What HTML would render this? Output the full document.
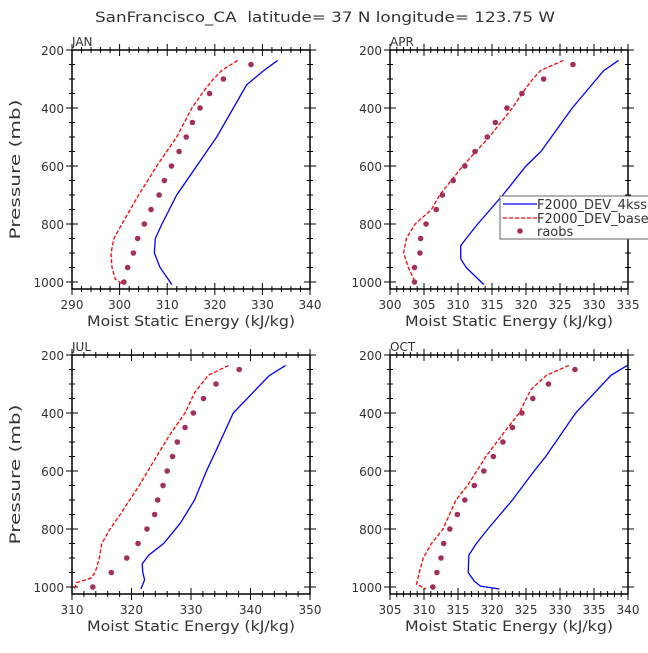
<!DOCTYPE html>
<html><head><meta charset="utf-8"><style>
body{margin:0;background:#fff;}
svg text{font-family:"DejaVu Sans","Liberation Sans",sans-serif;fill:#333;white-space:pre;}
</style></head><body>
<svg id="c" width="648" height="648" viewBox="0 0 648 648">
<text x="95" y="22" font-size="14" textLength="460" lengthAdjust="spacingAndGlyphs" xml:space="preserve">SanFrancisco_CA  latitude= 37 N longitude= 123.75 W</text>
</svg>
<script>
const panelNames = ["JAN","APR","JUL","OCT"];
const xMins = [290,300,310,305];
const xMaxs = [340,335,350,340];
const xTickSteps = [10,5,10,5];
const xMinorSteps = [2,1,2,1];
const yTicks = [200,400,600,800,1000];
const obsP = [250,300,350,400,450,500,550,600,650,700,750,800,850,900,950,1000];
const obsJAN = [327.6,321.8,318.9,316.9,315.3,314.0,312.5,310.9,309.4,308.3,306.6,305.2,303.8,302.9,301.7,300.9];
const obsAPR = [326.9,322.6,319.4,317.2,315.5,314.3,312.5,311.0,309.3,307.7,306.8,305.3,304.5,304.4,303.6,303.6];
const obsJUL = [338.1,334.2,332.1,330.4,329.0,327.7,326.9,326.0,325.3,324.4,323.9,322.6,321.1,319.2,316.6,313.5];
const obsOCT = [332.2,328.3,326.0,324.4,323.0,321.6,320.2,318.8,317.4,316.0,314.9,313.8,312.9,312.5,311.9,311.3];
const blueJAN_P = [236,272,320,400,500,600,700,800,850,900,950,1009];
const blueJAN = [333.2,330.2,326.7,323.9,320.4,316.2,312.0,308.9,307.5,307.3,308.5,311.0];
const redJAN_P = [236,270,300,350,400,500,600,700,800,850,900,950,990,1010];
const redJAN = [324.8,321.5,319.7,317.3,315.2,312.0,307.8,304.0,300.5,298.8,298.2,298.4,299.1,300.8];
const blueAPR_P = [236,272,400,550,600,700,800,850,875,920,950,1009];
const blueAPR = [333.6,331.4,326.8,322.2,320.0,316.6,312.9,311.2,310.4,310.4,311.2,313.8];
const redAPR_P = [236,270,300,350,400,500,600,700,750,800,850,900,950,1000];
const redAPR = [325.5,322.2,321.0,319.4,318.0,314.6,310.7,307.3,306.1,303.7,302.4,302.0,302.7,303.7];
const blueJUL_P = [236,272,400,530,600,700,780,850,890,920,950,975,1007];
const blueJUL = [345.9,343.1,337.1,334.2,332.6,330.6,328.2,325.4,322.9,321.8,321.9,322.2,321.6];
const redJUL_P = [236,270,330,400,470,550,650,750,800,850,900,950,970,985,1007];
const redJUL = [336.3,332.9,330.6,329.0,326.6,324.2,321.3,318.1,316.4,315.0,314.6,313.9,313.1,310.8,310.4];
const blueOCT_P = [236,270,400,550,600,700,800,850,890,950,980,997,1007];
const blueOCT = [339.9,337.5,332.3,327.9,326.2,323.0,319.4,317.7,316.6,316.5,317.4,318.3,321.1];
const redOCT_P = [236,270,320,400,460,550,650,700,800,850,900,950,990,1007];
const redOCT = [331.3,328.0,325.7,324.0,322.0,319.1,316.4,314.7,312.8,311.1,309.9,309.3,308.9,310.3];
const obsAll=[obsJAN,obsAPR,obsJUL,obsOCT];
const blueAll=[[blueJAN_P,blueJAN],[blueAPR_P,blueAPR],[blueJUL_P,blueJUL],[blueOCT_P,blueOCT]];
const redAll=[[redJAN_P,redJAN],[redAPR_P,redAPR],[redJUL_P,redJUL],[redOCT_P,redOCT]];

const svg=document.getElementById('c');
const NS='http://www.w3.org/2000/svg';
function mk(tag,attrs,parent){const e=document.createElementNS(NS,tag);for(const k in attrs)e.setAttribute(k,attrs[k]);(parent||svg).appendChild(e);return e;}
const lefts=[72,390,72,390], tops=[50,50,355,355];
const W=238,H=239;
for(let i=0;i<4;i++){
  const L=lefts[i],T=tops[i];
  const g=mk('g',{});
  
  
  const X=v=>L+(v-xMins[i])/(xMaxs[i]-xMins[i])*W;
  const pxPer=(H-7)/800;
  const Y=p=>T+(p-200)*pxPer;
  const B=T+H;
  for(let v=xMins[i];v<=xMaxs[i]+1e-6;v+=xMinorSteps[i]){
    const r=((v-xMins[i])/xTickSteps[i])%1;
    const major=r<1e-6||Math.abs(r-1)<1e-6;
    const len=major?6:3;
    mk('line',{x1:X(v),x2:X(v),y1:B,y2:B+len,stroke:'#000','stroke-width':1},g);
    mk('line',{x1:X(v),x2:X(v),y1:B,y2:B-len,stroke:'#000','stroke-width':1},g);
    mk('line',{x1:X(v),x2:X(v),y1:T,y2:T-len,stroke:'#000','stroke-width':1},g);
    mk('line',{x1:X(v),x2:X(v),y1:T,y2:T+len,stroke:'#000','stroke-width':1},g);
    if(major){const t=mk('text',{x:X(v),y:B+20,'font-size':12,'text-anchor':'middle'},g);t.textContent=Math.round(v);
      
      }
  }
  for(let p=200;p<=1000;p+=50){
    const major=p%200===0;const len=major?6:3;
    mk('line',{x1:L-len,x2:L+len,y1:Y(p),y2:Y(p),stroke:'#000','stroke-width':1},g);
    mk('line',{x1:L+W-len,x2:L+W+len,y1:Y(p),y2:Y(p),stroke:'#000','stroke-width':1},g);
  }
  for(const p of yTicks){const t=mk('text',{x:L-8,y:Y(p)+5,'font-size':12,'text-anchor':'end'},g);t.textContent=p;
    
    }
  const [bp,bv]=blueAll[i];
  const bl=mk('polyline',{points:bp.map((p,k)=>X(bv[k])+','+Y(p)).join(' '),fill:'none',stroke:'#0000ff','stroke-width':1.3},g);
  
  
  const [rp,rv]=redAll[i];
  const rl=mk('polyline',{points:rp.map((p,k)=>X(rv[k])+','+Y(p)).join(' '),fill:'none',stroke:'#ff0000','stroke-width':1.3,'stroke-dasharray':'4,2'},g);
  
  
  obsAll[i].forEach((v,k)=>{const c=mk('circle',{cx:X(v),cy:Y(obsP[k]),r:2.8,fill:'#a3305a'},g);
    
    });
  mk('rect',{x:L,y:T,width:W,height:H,fill:'none',stroke:'#000','stroke-width':1.5},g);
  const pt=mk('text',{x:L,y:T-4,'font-size':12,'text-anchor':'start'},g);pt.textContent=panelNames[i];
  
  
  const xl=mk('text',{x:L+15,y:B+37,'font-size':14,textLength:208,lengthAdjust:'spacingAndGlyphs'},g);xl.textContent='Moist Static Energy (kJ/kg)';
  
  
  if(i%2===0){const yl=mk('text',{x:-70,y:0,'font-size':14,textLength:140,lengthAdjust:'spacingAndGlyphs',transform:`translate(20,${T+H/2}) rotate(-90)`},g);yl.textContent='Pressure (mb)';
    
    }
}
const lg=mk('g',{});


mk('rect',{x:500,y:196,width:160,height:43,fill:'#fff',stroke:'#666','stroke-width':1},lg);
mk('line',{x1:503,x2:537,y1:204,y2:204,stroke:'#0000ff','stroke-width':1.3},lg);
mk('line',{x1:503,x2:537,y1:218,y2:218,stroke:'#ff0000','stroke-width':1.3,'stroke-dasharray':'4,2'},lg);
mk('circle',{cx:520,cy:231,r:2.8,fill:'#a3305a'},lg);
[['F2000_DEV_4kss',209],['F2000_DEV_base',223],['raobs',236]].forEach(([s,y])=>{const t=mk('text',{x:537,y:y,'font-size':13},lg);t.textContent=s;
  
  });
</script>
</body></html>
